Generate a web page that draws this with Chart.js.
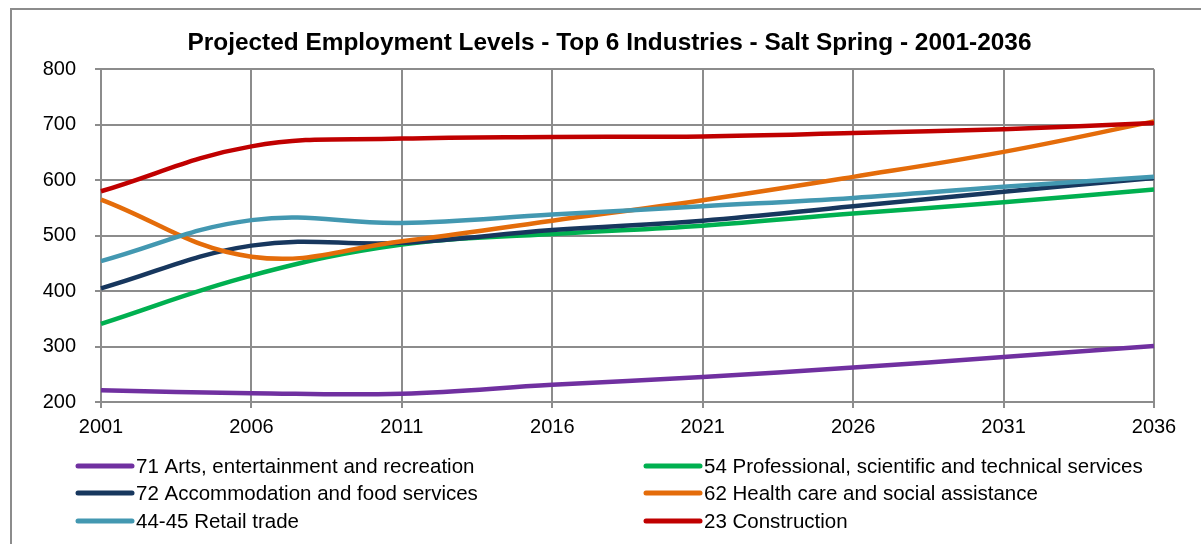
<!DOCTYPE html>
<html>
<head>
<meta charset="utf-8">
<script src="https://cdn.jsdelivr.net/npm/chart.js@4/dist/chart.umd.min.js"></script>
<style>
  body { margin: 0; background: #fff; }
  canvas { display: block; }
</style>
</head>
<body>
<canvas id="grafico" width="1201" height="544"></canvas>
<script>
// anos da projecao
const anos = ["2001", "2006", "2011", "2016", "2021", "2026", "2031", "2036"];

// nomes das industrias (ordem da legenda)
const industrias = [
    "71 Arts, entertainment and recreation",
    "54 Professional, scientific and technical services",
    "72 Accommodation and food services",
    "62 Health care and social assistance",
    "44-45 Retail trade",
    "23 Construction"
];

// empregos por industria
const artes = [221, 216, 215, 231, 245, 262, 281, 301];
const profissional = [341, 428, 484, 503, 518, 540, 560, 583];
const hospedagem = [405, 482, 487, 510, 527, 553, 579, 604];
const saude = [565, 462, 490, 527, 564, 606, 651, 706];
const varejo = [454, 528, 523, 538, 553, 568, 588, 606];
const construcao = [580, 661, 675, 678, 679, 685, 692, 703];

const cores = ["#7030A0", "#00B050", "#17375E", "#E46C0A", "#4398B1", "#C00000"];
const series = [artes, profissional, hospedagem, saude, varejo, construcao];

const cinza = "#8c8c8c";
const fonte = "'Liberation Sans', Arial, sans-serif";

// moldura e legenda em duas colunas, desenhadas na mao
const extras = {
    id: "extras",
    beforeDraw(chart) {
        const c = chart.ctx;
        c.save();
        c.fillStyle = "#fff";
        c.fillRect(0, 0, chart.width, chart.height);
        c.strokeStyle = cinza;
        c.lineWidth = 2;
        c.beginPath();
        c.moveTo(11, chart.height + 5);
        c.lineTo(11, 9);
        c.lineTo(chart.width + 5, 9);
        c.stroke();
        c.restore();
    },
    afterDraw(chart) {
        const c = chart.ctx;
        const colX = [78, 646];
        const linhaY = [466, 493, 521];
        c.save();
        c.font = "20.5px " + fonte;
        c.textBaseline = "middle";
        c.fillStyle = "#000";
        c.lineCap = "round";
        c.lineWidth = 5;
        industrias.forEach((nome, i) => {
            const x = colX[i % 2];
            const y = linhaY[Math.floor(i / 2)];
            c.strokeStyle = cores[i];
            c.beginPath();
            c.moveTo(x, y);
            c.lineTo(x + 54, y);
            c.stroke();
            c.fillText(nome, x + 58, y + 1);
        });
        c.restore();
    }
};

new Chart(document.getElementById("grafico"), {
    type: "line",
    data: {
        labels: anos,
        datasets: industrias.map((nome, i) => ({
            label: nome,
            data: series[i],
            borderColor: cores[i],
            backgroundColor: cores[i],
            borderWidth: 4.5,
            pointRadius: 0,
            tension: 0.4,
            fill: false,
            // ultima serie fica por cima
            order: industrias.length - i
        }))
    },
    options: {
        responsive: false,
        animation: false,
        layout: { padding: { left: 18, right: 0, top: 0, bottom: 102 } },
        plugins: {
            legend: { display: false },
            tooltip: { enabled: false },
            title: {
                display: true,
                text: "Projected Employment Levels - Top 6 Industries - Salt Spring - 2001-2036",
                color: "#000",
                font: { family: fonte, size: 24.4, weight: "bold", lineHeight: 1.2 },
                padding: { top: 29, bottom: 11 }
            }
        },
        scales: {
            x: {
                offset: false,
                grid: { color: cinza, lineWidth: 2, tickLength: 6, tickColor: cinza },
                border: { color: cinza, width: 2 },
                ticks: { color: "#000", font: { family: fonte, size: 20 }, padding: 7, maxRotation: 0 },
                afterFit(scale) { scale.height = 40; }
            },
            y: {
                min: 200,
                max: 800,
                grid: { color: cinza, lineWidth: 2, tickLength: 6, tickColor: cinza },
                border: { color: cinza, width: 2 },
                ticks: { stepSize: 100, color: "#000", font: { family: fonte, size: 20 }, padding: 19 },
                afterFit(scale) { scale.width = 83; }
            },
            // eixo vazio so para reservar a margem da direita
            margem: {
                position: "right",
                grid: { display: false, drawTicks: false },
                border: { display: false },
                ticks: { display: false },
                afterFit(scale) { scale.width = 47; }
            }
        }
    },
    plugins: [extras]
});
</script>
</body>
</html>
